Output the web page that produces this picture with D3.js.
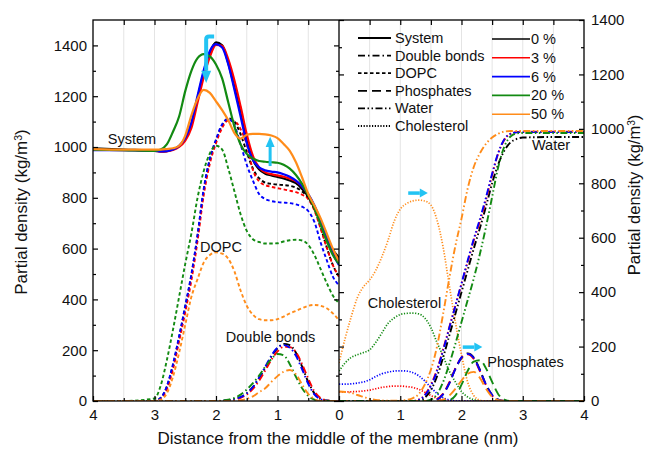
<!DOCTYPE html>
<html>
<head>
<meta charset="utf-8">
<script src="https://cdn.jsdelivr.net/npm/d3@7"></script>
<style>
  body { margin: 0; background: #fff; }
  svg { display: block; font-family: "Liberation Sans", Arial, sans-serif; }
</style>
</head>
<body>
<svg id="chart" width="647" height="453"></svg>
<script>
// Distance from the membrane centre (nm), shared by every profile
const distanceNm = [0,0.1,0.2,0.3,0.4,0.5,0.6,0.7,0.8,0.9,1.0,1.1,1.2,1.3,1.4,1.5,1.6,1.7,1.8,1.9,2.0,2.1,2.2,2.3,2.4,2.5,2.6,2.7,2.8,2.9,3.0,3.5,4.0];

// Cholesterol content of each simulated membrane
const cholesterolContent = ["0 %", "3 %", "6 %", "20 %", "50 %"];
const contentColors = ["#000000", "#ff0000", "#0000ff", "#128a12", "#ff8c1a"];

// Tick values
const distanceTicks = [0, 1, 2, 3, 4];
const distanceMinorTicks = [0.5, 1.5, 2.5, 3.5];
const leftDensityTicks = [0, 200, 400, 600, 800, 1000, 1200, 1400];
const rightDensityTicks = [0, 200, 400, 600, 800, 1000, 1200, 1400];

// Whole-system density (kg/m3)
const system0  = [565,595,645,705,760,805,835,858,868,876,882,888,895,912,950,1025,1135,1235,1330,1400,1412,1372,1292,1192,1088,1030,1003,990,984,983,986,990,995];
const system3  = [555,585,640,705,765,812,845,865,875,883,888,893,900,920,965,1050,1160,1262,1345,1398,1402,1355,1275,1175,1075,1025,1000,988,983,982,985,988,990];
const system6  = [535,580,640,710,770,815,845,868,883,893,900,903,908,920,950,1015,1120,1225,1325,1392,1405,1378,1302,1202,1097,1035,1005,990,984,983,985,988,988];
const system20 = [540,575,630,695,760,810,855,890,915,930,938,940,942,945,955,973,1010,1080,1175,1270,1325,1357,1366,1350,1300,1220,1120,1060,1010,990,985,988,990];
const system50 = [550,600,660,720,770,815,880,940,985,1012,1035,1045,1050,1052,1052,1048,1033,1055,1105,1145,1180,1213,1225,1190,1125,1045,1005,995,992,990,990,990,992];

// DOPC density
const dopc0  = [490,535,605,685,755,800,825,840,847,850,852,855,860,877,915,980,1050,1100,1113,1085,1025,950,830,650,495,370,250,140,55,12,0,0,0];
const dopc3  = [490,535,605,680,750,795,812,822,828,833,838,843,850,865,910,1010,1070,1102,1105,1075,1015,935,810,630,475,350,235,125,45,8,0,0,0];
const dopc6  = [455,490,555,625,705,748,765,774,779,781,783,787,795,815,868,930,1010,1085,1110,1090,1030,955,835,655,500,375,255,145,58,12,0,0,0];
const dopc20 = [385,415,465,520,575,615,632,635,633,628,621,620,620,626,637,670,735,825,915,990,1005,975,905,800,660,540,410,280,160,60,10,0,0];
const dopc50 = [318,345,365,375,378,375,365,355,345,332,322,318,318,322,340,375,435,510,560,580,585,575,545,480,410,300,190,95,30,5,0,0,0];

// Double-bond density
const doubleBonds0  = [0,0,2,8,30,75,135,190,220,225,208,175,130,90,55,30,15,8,3,1,0,0,0,0,0,0,0,0,0,0,0,0,0];
const doubleBonds3  = [0,0,3,12,38,88,145,192,212,213,195,162,120,80,48,25,12,5,2,0,0,0,0,0,0,0,0,0,0,0,0,0,0];
const doubleBonds6  = [0,0,1,7,26,68,125,178,210,220,210,178,135,92,55,30,15,7,3,1,0,0,0,0,0,0,0,0,0,0,0,0,0];
const doubleBonds20 = [0,0,0,0,5,20,50,95,145,180,185,165,135,100,70,45,25,12,5,2,0,0,0,0,0,0,0,0,0,0,0,0,0];
const doubleBonds50 = [0,0,0,0,8,28,65,105,122,115,98,75,50,35,18,8,3,1,0,0,0,0,0,0,0,0,0,0,0,0,0,0,0];

// Water density
const water0  = [0,0,0,0,0,0,0,0,0,0,0,0,0,2,12,40,90,160,240,320,400,480,560,635,715,800,870,920,950,963,968,970,970];
const water3  = [0,0,0,0,0,0,0,0,0,0,0,0,0,5,22,60,115,190,270,350,430,510,590,660,740,830,910,960,982,988,990,990,990];
const water6  = [0,0,0,0,0,0,0,0,0,0,0,0,0,4,20,55,110,185,268,350,432,515,595,668,748,835,912,962,982,987,988,988,988];
const water20 = [0,0,0,0,0,0,0,0,0,0,0,0,0,0,0,5,25,70,135,210,290,370,450,540,640,750,860,935,972,983,985,985,985];
const water50 = [35,33,30,22,15,8,4,2,1,1,2,4,10,25,60,115,200,320,450,570,670,780,860,910,945,968,982,990,992,992,992,992,992];

// Phosphate density
const phosphates0  = [0,0,0,0,0,0,0,0,0,0,0,0,0,0,0,0,5,25,65,118,158,175,160,115,60,22,5,0,0,0,0,0,0];
const phosphates3  = [0,0,0,0,0,0,0,0,0,0,0,0,0,0,0,0,6,27,68,120,160,172,155,110,58,20,4,0,0,0,0,0,0];
const phosphates6  = [0,0,0,0,0,0,0,0,0,0,0,0,0,0,0,0,5,25,65,118,160,173,158,113,60,22,5,0,0,0,0,0,0];
const phosphates20 = [0,0,0,0,0,0,0,0,0,0,0,0,0,0,0,0,0,0,3,20,60,110,145,150,120,70,25,5,0,0,0,0,0];
const phosphates50 = [0,0,0,0,0,0,0,0,0,0,0,0,0,0,0,0,0,5,20,45,75,100,107,85,45,15,3,0,0,0,0,0,0];

// Cholesterol density (none in the 0 % membrane)
const cholesterol3  = [33,33,34,35,37,40,45,50,53,55,55,53,50,43,32,20,10,4,1,0,0,0,0,0,0,0,0,0,0,0,0,0,0];
const cholesterol6  = [62,62,63,66,70,78,90,100,106,110,111,110,105,93,74,50,28,12,4,1,0,0,0,0,0,0,0,0,0,0,0,0,0];
const cholesterol20 = [110,140,160,170,178,188,215,250,285,305,318,322,323,320,305,270,215,165,110,70,35,15,5,0,0,0,0,0,0,0,0,0,0];
const cholesterol50 = [140,230,310,380,420,445,480,530,590,660,705,725,735,738,735,720,665,565,425,290,170,70,20,3,0,0,0,0,0,0,0,0,0];

// Line style of each component
const componentStyles = [
  { name: "System",       dash: null,                      width: 2.2 },
  { name: "Double bonds", dash: "7,3,1.5,3",               width: 1.9 },
  { name: "DOPC",         dash: "3.5,2.5",                 width: 1.9 },
  { name: "Phosphates",   dash: "9,5",                     width: 1.9 },
  { name: "Water",        dash: "7,2.5,1.5,2.5,1.5,2.5",   width: 1.9 },
  { name: "Cholesterol",  dash: "1.2,1.6",                 width: 1.7 }
];

// Profiles grouped per panel
const leftProfiles = [
  { comp: 2, sets: [dopc0, dopc3, dopc6, dopc20, dopc50] },
  { comp: 1, sets: [doubleBonds0, doubleBonds3, doubleBonds6, doubleBonds20, doubleBonds50] },
  { comp: 0, sets: [system0, system3, system6, system20, system50] }
];
const rightProfiles = [
  { comp: 5, sets: [null, cholesterol3, cholesterol6, cholesterol20, cholesterol50] },
  { comp: 3, sets: [phosphates0, phosphates3, phosphates6, phosphates20, phosphates50] },
  { comp: 4, sets: [water0, water3, water6, water20, water50] }
];

const svg = d3.select("#chart");
const plotTop = 20, plotBottom = 401, leftX = 93, midX = 339, rightX = 584;

const xLeft = d3.scaleLinear().domain([4, 0]).range([leftX, midX]);
const xRight = d3.scaleLinear().domain([0, 4]).range([midX, rightX]);
const yLeft = d3.scaleLinear().domain([0, 1500]).range([plotBottom, plotTop]);
const yRight = d3.scaleLinear().domain([0, 1400]).range([plotBottom, plotTop]);

const defs = svg.append("defs");
defs.append("clipPath").attr("id", "clipL").append("rect")
  .attr("x", leftX).attr("y", plotTop).attr("width", midX - leftX).attr("height", plotBottom - plotTop);
defs.append("clipPath").attr("id", "clipR").append("rect")
  .attr("x", midX).attr("y", plotTop).attr("width", rightX - midX).attr("height", plotBottom - plotTop);

// Vertical grid lines every 0.5 nm
const gridVals = [0.5, 1, 1.5, 2, 2.5, 3, 3.5];
const grid = svg.append("g").attr("stroke", "#e4e4e4").attr("stroke-width", 1);
gridVals.forEach(v => {
  grid.append("line").attr("x1", xLeft(v)).attr("x2", xLeft(v)).attr("y1", plotTop).attr("y2", plotBottom);
  grid.append("line").attr("x1", xRight(v)).attr("x2", xRight(v)).attr("y1", plotTop).attr("y2", plotBottom);
});

function drawProfiles(groups, xs, ys, clip) {
  const g = svg.append("g").attr("clip-path", `url(#${clip})`);
  const line = d3.line().x(p => p[0]).y(p => p[1]).curve(d3.curveMonotoneX);
  groups.forEach(grp => {
    const st = componentStyles[grp.comp];
    grp.sets.forEach((vals, i) => {
      if (!vals) return;
      const pts = distanceNm.map((d, k) => [xs(d), ys(vals[k])]).sort((a, b) => a[0] - b[0]);
      g.append("path")
        .attr("d", line(pts))
        .attr("fill", "none")
        .attr("stroke", contentColors[i])
        .attr("stroke-width", st.width)
        .attr("stroke-dasharray", st.dash)
        .attr("stroke-linejoin", "round");
    });
  });
}
drawProfiles(leftProfiles, xLeft, yLeft, "clipL");
drawProfiles(rightProfiles, xRight, yRight, "clipR");

// Axes
const tickFont = 15;
const intFormat = d3.format("d");
function styleAxis(g) {
  g.select(".domain").remove();
  g.selectAll(".tick line").attr("stroke", "#000").attr("stroke-width", 1.2);
  g.selectAll(".tick text").attr("font-size", tickFont).attr("fill", "#111")
    .attr("font-family", "'Liberation Sans', Arial, sans-serif");
}
function noLabels(g) { g.selectAll(".tick text").remove(); }

// Bottom axes
svg.append("g").attr("transform", `translate(0,${plotBottom})`)
  .call(d3.axisBottom(xLeft).tickValues(distanceTicks).tickSize(-5).tickPadding(8).tickFormat(intFormat))
  .call(styleAxis);
svg.append("g").attr("transform", `translate(0,${plotBottom})`)
  .call(d3.axisBottom(xLeft).tickValues(distanceMinorTicks).tickSize(-3))
  .call(styleAxis).call(noLabels);
svg.append("g").attr("transform", `translate(0,${plotBottom})`)
  .call(d3.axisBottom(xRight).tickValues(distanceTicks.filter(d => d > 0)).tickSize(-5).tickPadding(8).tickFormat(intFormat))
  .call(styleAxis);
svg.append("g").attr("transform", `translate(0,${plotBottom})`)
  .call(d3.axisBottom(xRight).tickValues(distanceMinorTicks).tickSize(-3))
  .call(styleAxis).call(noLabels);

// Top axes
[xLeft, xRight].forEach(xs => {
  svg.append("g").attr("transform", `translate(0,${plotTop})`)
    .call(d3.axisTop(xs).tickValues([0.5, 1, 1.5, 2, 2.5, 3, 3.5]).tickSize(-5))
    .call(styleAxis).call(noLabels);
});

// Left density axis (labelled) and its mirror on the panel divider
const leftMinor = d3.range(100, 1500, 200);
svg.append("g").attr("transform", `translate(${leftX},0)`)
  .call(d3.axisLeft(yLeft).tickValues(leftDensityTicks).tickSize(-5).tickPadding(6).tickFormat(intFormat))
  .call(styleAxis);
svg.append("g").attr("transform", `translate(${leftX},0)`)
  .call(d3.axisLeft(yLeft).tickValues(leftMinor).tickSize(-3))
  .call(styleAxis).call(noLabels);
svg.append("g").attr("transform", `translate(${midX},0)`)
  .call(d3.axisRight(yLeft).tickValues(leftDensityTicks).tickSize(-5))
  .call(styleAxis).call(noLabels);
svg.append("g").attr("transform", `translate(${midX},0)`)
  .call(d3.axisRight(yLeft).tickValues(leftMinor).tickSize(-3))
  .call(styleAxis).call(noLabels);

// Right density axis (labelled) and its mirror on the panel divider
const rightMinor = d3.range(100, 1400, 200);
svg.append("g").attr("transform", `translate(${rightX},0)`)
  .call(d3.axisRight(yRight).tickValues(rightDensityTicks).tickSize(-5).tickPadding(7).tickFormat(intFormat))
  .call(styleAxis);
svg.append("g").attr("transform", `translate(${rightX},0)`)
  .call(d3.axisRight(yRight).tickValues(rightMinor).tickSize(-3))
  .call(styleAxis).call(noLabels);
svg.append("g").attr("transform", `translate(${midX},0)`)
  .call(d3.axisLeft(yRight).tickValues(rightDensityTicks).tickSize(-5))
  .call(styleAxis).call(noLabels);
svg.append("g").attr("transform", `translate(${midX},0)`)
  .call(d3.axisLeft(yRight).tickValues(rightMinor).tickSize(-3))
  .call(styleAxis).call(noLabels);

// Panel frames
svg.append("rect").attr("x", leftX).attr("y", plotTop).attr("width", rightX - leftX).attr("height", plotBottom - plotTop)
  .attr("fill", "none").attr("stroke", "#000").attr("stroke-width", 1.3);
svg.append("line").attr("x1", midX).attr("x2", midX).attr("y1", plotTop).attr("y2", plotBottom)
  .attr("stroke", "#000").attr("stroke-width", 1.3);

// Axis titles
function densityTitle(x, y, size) {
  const t = svg.append("text").attr("transform", `translate(${x},${y}) rotate(-90)`)
    .attr("text-anchor", "middle").attr("font-size", size).attr("fill", "#111");
  t.append("tspan").text("Partial density (kg/m");
  t.append("tspan").attr("font-size", size * 0.62).attr("dy", -5.5).text("3");
  t.append("tspan").attr("dy", 5.5).text(")");
}
densityTitle(27, 212, 17);
densityTitle(640, 195, 16.5);
svg.append("text").attr("x", 338).attr("y", 444).attr("text-anchor", "middle")
  .attr("font-size", 17).attr("fill", "#111")
  .text("Distance from the middle of the membrane (nm)");

// Curve labels
const labelFont = 14.5;
const leftLabels = [
  { text: "System", d: 3.76, v: 1013 },
  { text: "DOPC", d: 2.26, v: 585 },
  { text: "Double bonds", d: 1.84, v: 232 }
];
const rightLabels = [
  { text: "Cholesterol", d: 0.47, v: 342 },
  { text: "Phosphates", d: 2.42, v: 125 },
  { text: "Water", d: 3.15, v: 922 }
];
leftLabels.forEach(l => svg.append("text").attr("x", xLeft(l.d)).attr("y", yLeft(l.v))
  .attr("font-size", labelFont).attr("fill", "#111").text(l.text));
rightLabels.forEach(l => svg.append("text").attr("x", xRight(l.d)).attr("y", yRight(l.v))
  .attr("font-size", labelFont).attr("fill", "#111").text(l.text));

// Trend arrows
const arrowColor = "#22c3f3";
const arrows = svg.append("g");
// hooked arrow over the system peak
{
  const sx = xLeft(2.03), cx = xLeft(2.16), ty = yLeft(1435), by = yLeft(1300), tip = yLeft(1252);
  arrows.append("path")
    .attr("d", `M${sx},${ty} L${cx + 3},${ty} Q${cx},${ty} ${cx},${ty + 3} L${cx},${by}`)
    .attr("fill", "none").attr("stroke", arrowColor).attr("stroke-width", 4);
  arrows.append("path")
    .attr("d", `M${cx - 5},${by} L${cx + 5},${by} L${cx},${tip} Z`).attr("fill", arrowColor);
}
// upward arrow on the plateau
{
  const x = xLeft(1.12), y0 = yLeft(925), yb = yLeft(1000), tip = yLeft(1040);
  arrows.append("line").attr("x1", x).attr("x2", x).attr("y1", y0).attr("y2", yb)
    .attr("stroke", arrowColor).attr("stroke-width", 3);
  arrows.append("path").attr("d", `M${x - 4.5},${yb} L${x + 4.5},${yb} L${x},${tip} Z`).attr("fill", arrowColor);
}
// rightward arrows in the right panel
[{ d0: 1.13, d1: 1.45, v: 764 }, { d0: 2.02, d1: 2.34, v: 198 }].forEach(a => {
  const x0 = xRight(a.d0), x1 = xRight(a.d1), y = yRight(a.v), xb = x1 - 8;
  arrows.append("line").attr("x1", x0).attr("x2", xb).attr("y1", y).attr("y2", y)
    .attr("stroke", arrowColor).attr("stroke-width", 3.5);
  arrows.append("path").attr("d", `M${xb},${y - 4.5} L${xb},${y + 4.5} L${x1},${y} Z`).attr("fill", arrowColor);
});

// Legend: component line styles
const legendA = svg.append("g");
componentStyles.forEach((s, i) => {
  const y = 38 + i * 17.6;
  legendA.append("line").attr("x1", 358).attr("x2", 391).attr("y1", y).attr("y2", y)
    .attr("stroke", "#000").attr("stroke-width", 1.8).attr("stroke-dasharray", s.dash);
  legendA.append("text").attr("x", 395).attr("y", y + 5).attr("font-size", labelFont)
    .attr("fill", "#111").text(s.name);
});
// Legend: cholesterol content colours
const legendB = svg.append("g");
cholesterolContent.forEach((c, i) => {
  const y = 39 + i * 18.8;
  legendB.append("line").attr("x1", 492).attr("x2", 530).attr("y1", y).attr("y2", y)
    .attr("stroke", contentColors[i]).attr("stroke-width", 1.6);
  legendB.append("text").attr("x", 531).attr("y", y + 5).attr("font-size", labelFont)
    .attr("fill", "#111").text(c);
});
</script>
</body>
</html>
